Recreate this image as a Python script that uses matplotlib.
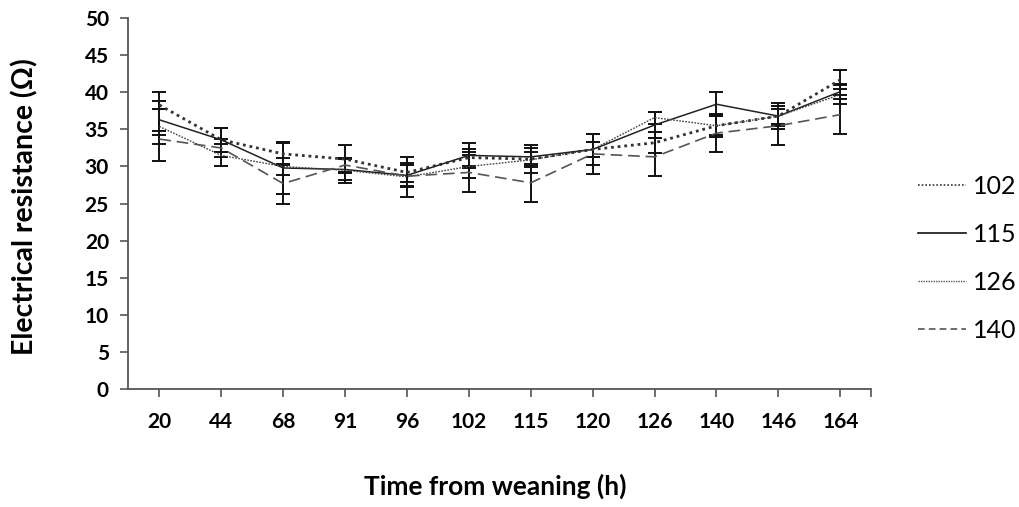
import numpy as np
import matplotlib
matplotlib.use('Agg')
import matplotlib.pyplot as plt

# time from weaning (h), categorical x axis
hours = ['20', '44', '68', '91', '96', '102', '115', '120', '126', '140', '146', '164']

r102 = [38.3, 33.6, 31.7, 31.0, 29.2, 31.2, 31.0, 32.3, 33.2, 35.5, 36.8, 41.7]
r115 = [36.3, 33.6, 29.8, 29.6, 28.8, 31.5, 31.3, 32.3, 35.6, 38.4, 36.8, 40.1]
r126 = [35.4, 31.5, 30.0, 29.5, 28.6, 30.0, 30.9, 32.3, 36.6, 35.5, 36.8, 39.7]
r140 = [33.7, 32.5, 27.7, 30.2, 28.7, 29.2, 27.8, 31.7, 31.3, 34.5, 35.5, 37.0]

e102 = [0.6, 1.6, 1.5, 1.9, 1.3, 1.2, 1.9, 1.0, 1.4, 1.5, 1.3, 1.3]
e115 = [1.5, 1.6, 3.5, 1.4, 1.4, 1.7, 1.2, 2.1, 1.8, 1.6, 1.8, 1.0]
e126 = [4.6, 1.5, 1.2, 1.7, 2.7, 1.5, 1.0, 1.0, 0.8, 1.3, 1.0, 1.3]
e140 = [0.6, 1.2, 2.7, 1.0, 1.5, 2.7, 2.6, 2.7, 2.6, 2.6, 2.6, 2.6]

plt.rcParams['font.family'] = ['Lato', 'DejaVu Sans']

fig = plt.figure(figsize=(10.19, 5.07), dpi=100)
ax = fig.add_axes([0.126, 0.233, 0.729, 0.731])

x = np.arange(len(hours))
series = [
    ('102', r102, e102, dict(color='#333333', lw=2.0, ls=(0, (1, 1.4)))),
    ('115', r115, e115, dict(color='#222222', lw=1.1, ls='-')),
    ('126', r126, e126, dict(color='#444444', lw=1.0, ls=(0, (1.2, 1.0)))),
    ('140', r140, e140, dict(color='#555555', lw=1.2, ls=(0, (7, 3.5)))),
]
for name, y, err, st in series:
    ax.errorbar(x, y, yerr=err, fmt='none', ecolor='#111111', elinewidth=1.4,
                capsize=5, capthick=1.4, zorder=2)
    ax.plot(x, y, label=name, zorder=3, **st)

ax.set_xlim(-0.5, 11.5)
ax.set_ylim(0, 50)
ax.set_yticks(range(0, 51, 5))
ax.set_xticks(x)
ax.set_xticklabels(hours)
ax.set_xticks([11.5], minor=True)
for s in ['top', 'right']:
    ax.spines[s].set_visible(False)
for s in ['left', 'bottom']:
    ax.spines[s].set_color('#555555')
    ax.spines[s].set_linewidth(1.3)
ax.tick_params(axis='both', which='both', direction='out', length=6, width=1.2,
               color='#555555', labelsize=15)
ax.tick_params(axis='x', pad=11)
ax.tick_params(axis='y', pad=8)
for lbl in ax.get_xticklabels() + ax.get_yticklabels():
    lbl.set_fontweight('bold')

ax.set_ylabel('Electrical resistance (Ω)', fontsize=20.5, fontweight='bold')
ax.yaxis.set_label_coords(-0.121, 0.493)
ax.set_xlabel('Time from weaning (h)', fontsize=19, fontweight='bold')
ax.xaxis.set_label_coords(0.494, -0.228)

# legend handles drawn thin, as in the original
leg_styles = [
    dict(color='#333333', lw=1.2, ls=(0, (1, 1.2))),
    dict(color='#111111', lw=1.2, ls='-'),
    dict(color='#555555', lw=1.0, ls=(0, (1, 0.8))),
    dict(color='#555555', lw=1.2, ls=(0, (4, 2.5))),
]
handles = [plt.Line2D([], [], **st) for st in leg_styles]
fig.legend(handles, [s[0] for s in series], loc='center left',
           bbox_to_anchor=(0.889, 0.491), frameon=False, fontsize=18,
           handlelength=1.9, handletextpad=0.3, labelspacing=1.0, borderpad=0)

fig.savefig('out.png', dpi=100)
